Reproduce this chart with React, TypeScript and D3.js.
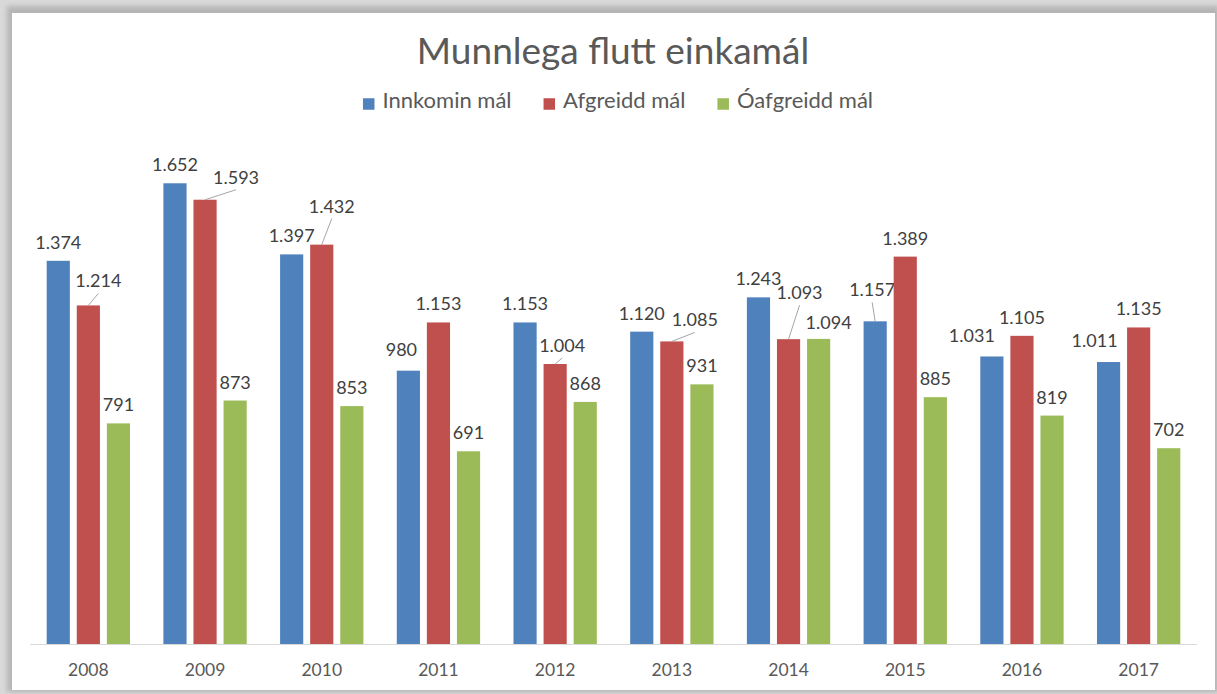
import * as d3 from "d3"

const years = ["2008", "2009", "2010", "2011", "2012", "2013", "2014", "2015", "2016", "2017"]
const seriesNames = ["Innkomin mál", "Afgreidd mál", "Óafgreidd mál"]
const innkomin = [1374, 1652, 1397, 980, 1153, 1120, 1243, 1157, 1031, 1011]
const afgreidd = [1214, 1593, 1432, 1153, 1004, 1085, 1093, 1389, 1105, 1135]
const oafgreidd = [791, 873, 853, 691, 868, 931, 1094, 885, 819, 702]
const seriesValues = [innkomin, afgreidd, oafgreidd]

const colors = ["#4f81bd", "#c0504d", "#9bbb59"]

// labels that Excel moved off their default spot (dx, dy in px, leader line?)
const labelMoves: Record<string, [number, number, boolean]> = {
  "2008-1": [10, -6, true],
  "2009-1": [31, -4, true],
  "2010-1": [10, -20, true],
  "2011-0": [-7, -3, false],
  "2012-1": [7, 0, true],
  "2013-1": [23, -3, true],
  "2014-1": [11, -28, true],
  "2014-2": [10, 2, false],
  "2015-0": [-3, -13, true],
  "2016-0": [-20, -2, false],
  "2017-0": [-14, -3, false],
}

const W = 1217
const H = 694
const FONT = "Lato, 'Open Sans', sans-serif"

const isFormat = d3.formatLocale({
  decimal: ",",
  thousands: ".",
  grouping: [3],
  currency: ["", " kr"],
}).format(",d")

function textWidth(txt: string, size: number) {
  const ctx = document.createElement("canvas").getContext("2d")
  if (!ctx) return txt.length * size * 0.5
  ctx.font = `${size}px Lato`
  return ctx.measureText(txt).width
}

export default function App() {
  const x0 = d3.scaleBand<string>().domain(years).range([30, 1197])
  const bw = x0.bandwidth()
  const x1 = d3
    .scaleBand<number>()
    .domain([0, 1, 2])
    .range([bw * 0.143, bw * 0.857])
    .paddingInner(0.23)
  const y = d3.scaleLinear().domain([0, 1800]).range([644, 142])

  // legend layout
  const legendSize = 22
  const sq = 11.5
  const items = seriesNames.map((name) => ({ name, w: textWidth(name, legendSize) }))
  const totalW = d3.sum(items, (d) => sq + 8 + d.w) + 32 * (items.length - 1)
  let lx = 618 - totalW / 2
  const legendPos = items.map((d) => {
    const p = lx
    lx += sq + 8 + d.w + 32
    return p
  })

  return (
    <svg width={W} height={H} style={{ position: "absolute", left: 0, top: 0 }} fontFamily={FONT}>
      <defs>
        <filter id="blur" x="-5%" y="-5%" width="110%" height="110%">
          <feGaussianBlur stdDeviation="2.5" />
        </filter>
      </defs>
      <rect width={W} height={H} fill="#d9d9d9" />
      <rect x={7} y={6} width={W - 5} height={H - 8} fill="#b5b5b5" filter="url(#blur)" />
      <rect x={12} y={13} width={1203} height={677} fill="#ffffff" />

      <text x={613} y={64} textAnchor="middle" fontSize={37} fill="#595959">
        Munnlega flutt einkamál
      </text>

      {items.map((d, i) => (
        <g key={d.name} transform={`translate(${legendPos[i]},0)`}>
          <rect x={0} y={104 - sq / 2} width={sq} height={sq} fill={colors[i]} />
          <text x={sq + 8} y={108} fontSize={legendSize} fill="#595959">
            {d.name}
          </text>
        </g>
      ))}

      <line x1={30} x2={1197} y1={y(0) + 0.5} y2={y(0) + 0.5} stroke="#d9d9d9" strokeWidth={1} />

      {years.map((yr, yi) => (
        <g key={yr} transform={`translate(${x0(yr)},0)`}>
          {seriesValues.map((vals, si) => {
            const v = vals[yi]
            const bx = x1(si) as number
            const cx = bx + x1.bandwidth() / 2
            const top = y(v)
            const mv = labelMoves[`${yr}-${si}`] || [0, 0, false]
            const lxp = cx + mv[0]
            const lyp = top - 12 + mv[1]
            return (
              <g key={si}>
                <rect x={bx} y={top} width={x1.bandwidth()} height={y(0) - top} fill={colors[si]} />
                {mv[2] && (
                  <line x1={cx} y1={top} x2={lxp} y2={lyp + 6} stroke="#a6a6a6" strokeWidth={1} />
                )}
                <text x={lxp} y={lyp} textAnchor="middle" fontSize={18} fill="#404040">
                  {isFormat(v)}
                </text>
              </g>
            )
          })}
          <text x={bw / 2} y={676} textAnchor="middle" fontSize={17.5} fill="#595959">
            {yr}
          </text>
        </g>
      ))}
    </svg>
  )
}
